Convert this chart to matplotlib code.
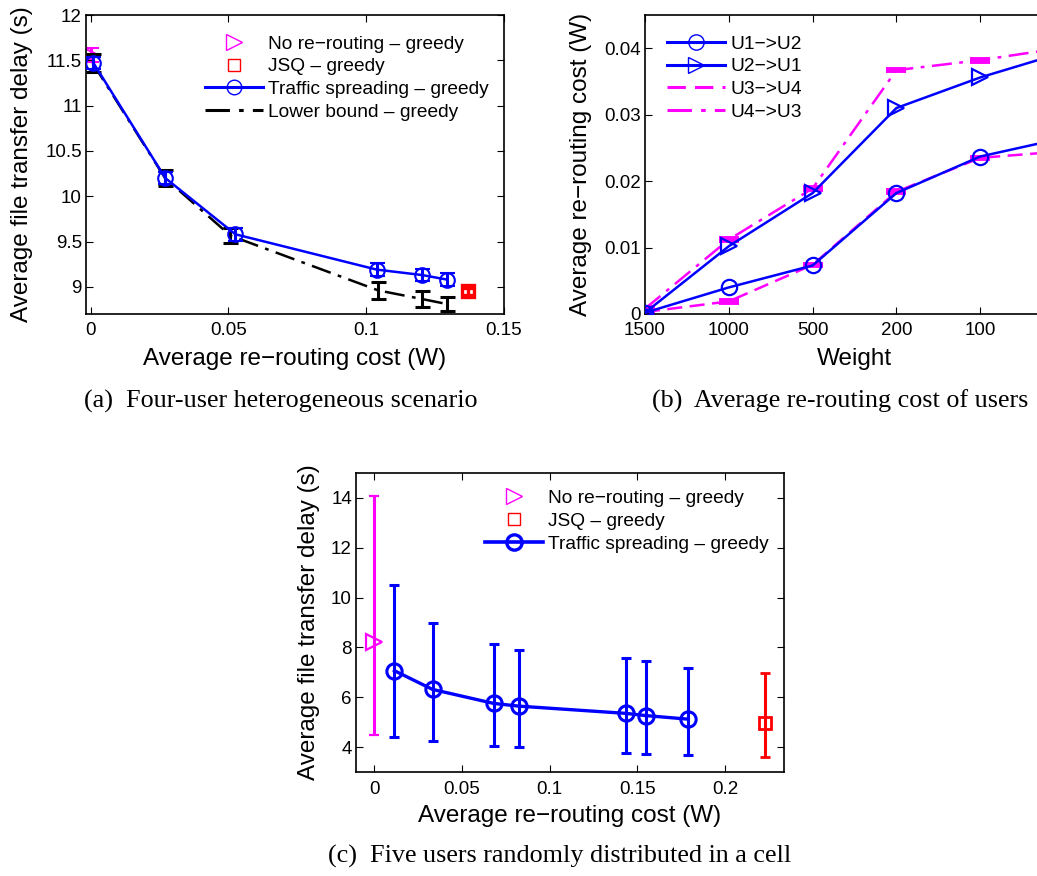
import matplotlib
matplotlib.use("Agg")
import matplotlib.pyplot as plt
from matplotlib.lines import Line2D
import numpy as np

plt.rcParams['font.family'] = ['Liberation Sans', 'DejaVu Sans']

# ---------------- Data (a) ----------------
a_ts_x = [0.001, 0.0271, 0.0525, 0.1038, 0.1203, 0.1293]
a_ts_y = [11.47, 10.20, 9.58, 9.19, 9.13, 9.08]
a_ts_err = [0.07, 0.07, 0.07, 0.07, 0.07, 0.07]
a_lb_x = [0.0007, 0.027, 0.0507, 0.1044, 0.1203, 0.1293]
a_lb_y = [11.47, 10.20, 9.565, 8.96, 8.865, 8.81]
a_lb_err = [0.10, 0.09, 0.085, 0.09, 0.085, 0.08]
a_nr_x = [0.0]
a_nr_y = [11.56]
a_nr_err = [0.08]
a_jsq_x = [0.137]
a_jsq_y = [8.95]
a_jsq_err = [0.04]

# ---------------- Data (b) ----------------
b_weights = ['1500', '1000', '500', '200', '100', '']
b_u1u2 = [0.0002, 0.0040, 0.0073, 0.0182, 0.0237, 0.0265]
b_u2u1 = [0.0002, 0.0102, 0.0182, 0.0310, 0.0356, 0.0394]
b_u3u4 = [0.0003, 0.0019, 0.0074, 0.0184, 0.0235, 0.0245]
b_u4u3 = [0.0008, 0.0112, 0.0189, 0.0367, 0.0382, 0.0401]

# ---------------- Data (c) ----------------
c_ts_x = [0.0116, 0.0333, 0.0681, 0.0825, 0.1435, 0.1551, 0.1787]
c_ts_y = [7.07, 6.32, 5.76, 5.65, 5.36, 5.27, 5.13]
c_ts_hi = [10.52, 8.96, 8.13, 7.89, 7.56, 7.45, 7.16]
c_ts_lo = [4.40, 4.25, 4.07, 4.03, 3.76, 3.73, 3.69]
c_nr_x = [0.0]
c_nr_y = [8.23]
c_nr_hi = [14.07]
c_nr_lo = [4.49]
c_jsq_x = [0.2226]
c_jsq_y = [4.99]
c_jsq_hi = [6.99]
c_jsq_lo = [3.63]

BLUE = '#0000ff'
MAG = '#ff00ff'
RED = '#ff0000'

W, H = 1037, 876
fig = plt.figure(figsize=(W / 100, H / 100), dpi=100)

def box(l, r, t, b):
    return [l / W, 1 - b / H, (r - l) / W, (b - t) / H]

TICK = 13.5
LAB = 17.5
LEG = 13.8
DASHDOT = (0, (8, 3, 1.5, 3))

def style(ax, xl, yl):
    ax.tick_params(direction='in', top=True, right=True, labelsize=TICK, length=5, width=0.8)
    ax.tick_params(axis='x', pad=6)
    ax.tick_params(axis='y', pad=2.9)
    for s in ax.spines.values():
        s.set_linewidth(1.2)
    ax.xaxis.set_label_coords(0.5, xl)
    ax.yaxis.set_label_coords(yl, 0.5)

def legend(ax, handles, labels, x, y):
    ax.legend(handles, labels, loc='upper left', bbox_to_anchor=(x, y), frameon=False,
              fontsize=LEG, handlelength=3.0, handletextpad=0.3, labelspacing=0.28,
              borderaxespad=0, borderpad=0)

# ---------- (a) ----------
ax = fig.add_axes(box(86, 504, 15, 314))
ax.errorbar(a_lb_x, a_lb_y, yerr=a_lb_err, color='k', ls=DASHDOT, lw=1.8,
            capsize=5.4, elinewidth=2.2, capthick=2.2, zorder=2)
ax.errorbar(a_ts_x, a_ts_y, yerr=a_ts_err, color=BLUE, ls='-', lw=1.8, marker='o', ms=10.5,
            mfc='none', mew=1.5, capsize=5.4, elinewidth=2.2, capthick=2.2, zorder=3)
ax.errorbar(a_nr_x, a_nr_y, yerr=a_nr_err, color=MAG, ls='none', marker='>', ms=10,
            mfc='none', mew=1.5, capsize=5.4, elinewidth=2.2, capthick=2.2, zorder=1)
ax.errorbar(a_jsq_x, a_jsq_y, yerr=a_jsq_err, color=RED, ls='none', marker='s', ms=8.5,
            mfc='none', mew=2.4, capsize=4, elinewidth=2.4, capthick=2.4, zorder=3)
ax.set_xlim(-0.0017, 0.15)
ax.set_ylim(8.7, 12)
ax.set_xticks([0, 0.05, 0.1, 0.15])
ax.set_xticklabels(['0', '0.05', '0.1', '0.15'])
ax.set_yticks([9, 9.5, 10, 10.5, 11, 11.5, 12])
ax.set_yticklabels(['9', '9.5', '10', '10.5', '11', '11.5', '12'])
ax.set_xlabel('Average re\u2212routing cost (W)', fontsize=LAB)
ax.set_ylabel('Average file transfer delay (s)', fontsize=LAB)
style(ax, -0.115, -0.126)
handles = [
    Line2D([], [], color=MAG, ls='none', marker='>', ms=12, mfc='none', mew=1.0),
    Line2D([], [], color=RED, ls='none', marker='s', ms=9, mfc='none', mew=1.0),
    Line2D([], [], color=BLUE, ls='-', lw=2.2, marker='o', ms=10.5, mfc='none', mew=1.0),
    Line2D([], [], color='k', ls=DASHDOT, lw=2.2),
]
legend(ax, handles, ['No re\u2212routing \u2013 greedy', 'JSQ \u2013 greedy',
                     'Traffic spreading \u2013 greedy', 'Lower bound \u2013 greedy'],
       (205 - 86) / 418, (314 - 35.2) / 299)

# ---------- (b) ----------
bx = fig.add_axes(box(645, 1064, 15, 314))
xs = np.arange(1, len(b_weights) + 1)
bx.plot(xs, b_u1u2, color=BLUE, ls='-', lw=1.8, marker='o', ms=11, mfc='none', mew=1.6, zorder=3)
bx.plot(xs, b_u2u1, color=BLUE, ls='-', lw=1.8, marker='>', ms=11, mfc='none', mew=1.6, zorder=3)
bx.errorbar(xs, b_u3u4, yerr=0.0002, color=MAG, ls=(0, (6, 3)), lw=1.8, capsize=7,
            elinewidth=1.8, capthick=2.8, zorder=2)
bx.errorbar(xs, b_u4u3, yerr=0.0002, color=MAG, ls=DASHDOT, lw=1.8, capsize=7,
            elinewidth=1.8, capthick=2.8, zorder=2)
bx.set_xlim(1, 6)
bx.set_ylim(0, 0.045)
bx.set_xticks(xs)
bx.set_xticklabels(b_weights)
bx.set_yticks([0, 0.01, 0.02, 0.03, 0.04])
bx.set_yticklabels(['0', '0.01', '0.02', '0.03', '0.04'])
bx.set_xlabel('Weight', fontsize=LAB)
bx.set_ylabel('Average re\u2212routing cost (W)', fontsize=LAB)
style(bx, -0.115, -0.1265)
bh = [
    Line2D([], [], color=BLUE, ls='-', lw=2.2, marker='o', ms=11, mfc='none', mew=1.0),
    Line2D([], [], color=BLUE, ls='-', lw=2.2, marker='>', ms=11, mfc='none', mew=1.0),
    Line2D([], [], color=MAG, ls=(0, (6, 3)), lw=2.2),
    Line2D([], [], color=MAG, ls=DASHDOT, lw=2.2),
]
legend(bx, bh, ['U1\u2212>U2', 'U2\u2212>U1', 'U3\u2212>U4', 'U4\u2212>U3'],
       (667 - 645) / 419, (314 - 35.2) / 299)

# ---------- (c) ----------
cx = fig.add_axes(box(356, 784, 472.7, 772.3))
def asym(y, lo, hi):
    return [np.array(y) - np.array(lo), np.array(hi) - np.array(y)]
cx.errorbar(c_nr_x, c_nr_y, yerr=asym(c_nr_y, c_nr_lo, c_nr_hi), color=MAG, ls='none',
            marker='>', ms=11, mfc='none', mew=1.6, capsize=3.8, elinewidth=2.2, capthick=2.2)
cx.errorbar(c_ts_x, c_ts_y, yerr=asym(c_ts_y, c_ts_lo, c_ts_hi), color=BLUE, ls='-', lw=2.4,
            marker='o', ms=11, mfc='none', mew=2.2, capsize=3.8, elinewidth=2.2, capthick=2.2)
cx.errorbar(c_jsq_x, c_jsq_y, yerr=asym(c_jsq_y, c_jsq_lo, c_jsq_hi), color=RED, ls='none',
            marker='s', ms=8.5, mfc='none', mew=2.0, capsize=3.8, elinewidth=2.2, capthick=2.2)
cx.set_xlim(-0.0103, 0.2336)
cx.set_ylim(3, 15)
cx.set_xticks([0, 0.05, 0.1, 0.15, 0.2])
cx.set_xticklabels(['0', '0.05', '0.1', '0.15', '0.2'])
cx.set_yticks([4, 6, 8, 10, 12, 14])
cx.set_xlabel('Average re\u2212routing cost (W)', fontsize=LAB)
cx.set_ylabel('Average file transfer delay (s)', fontsize=LAB)
style(cx, -0.108, -0.084)
ch = [
    Line2D([], [], color=MAG, ls='none', marker='>', ms=12, mfc='none', mew=1.0),
    Line2D([], [], color=RED, ls='none', marker='s', ms=8, mfc='none', mew=1.0),
    Line2D([], [], color=BLUE, ls='-', lw=2.6, marker='o', ms=11, mfc='none', mew=2.4),
]
legend(cx, ch, ['No re\u2212routing \u2013 greedy', 'JSQ \u2013 greedy',
                'Traffic spreading \u2013 greedy'],
       (485 - 356) / 428, (772.3 - 489.7) / 299.6)

# ---------- captions ----------
CAP = dict(fontsize=18.8, family=['Liberation Serif', 'DejaVu Serif'], ha='center', va='center')
fig.text(281 / W, 1 - 401 / H, '(a)  Four-user heterogeneous scenario', **CAP)
fig.text(840 / W, 1 - 401 / H, '(b)  Average re-routing cost of users', **CAP)
fig.text(560 / W, 1 - 856 / H, '(c)  Five users randomly distributed in a cell', **CAP)

fig.savefig('out.png', dpi=100)
